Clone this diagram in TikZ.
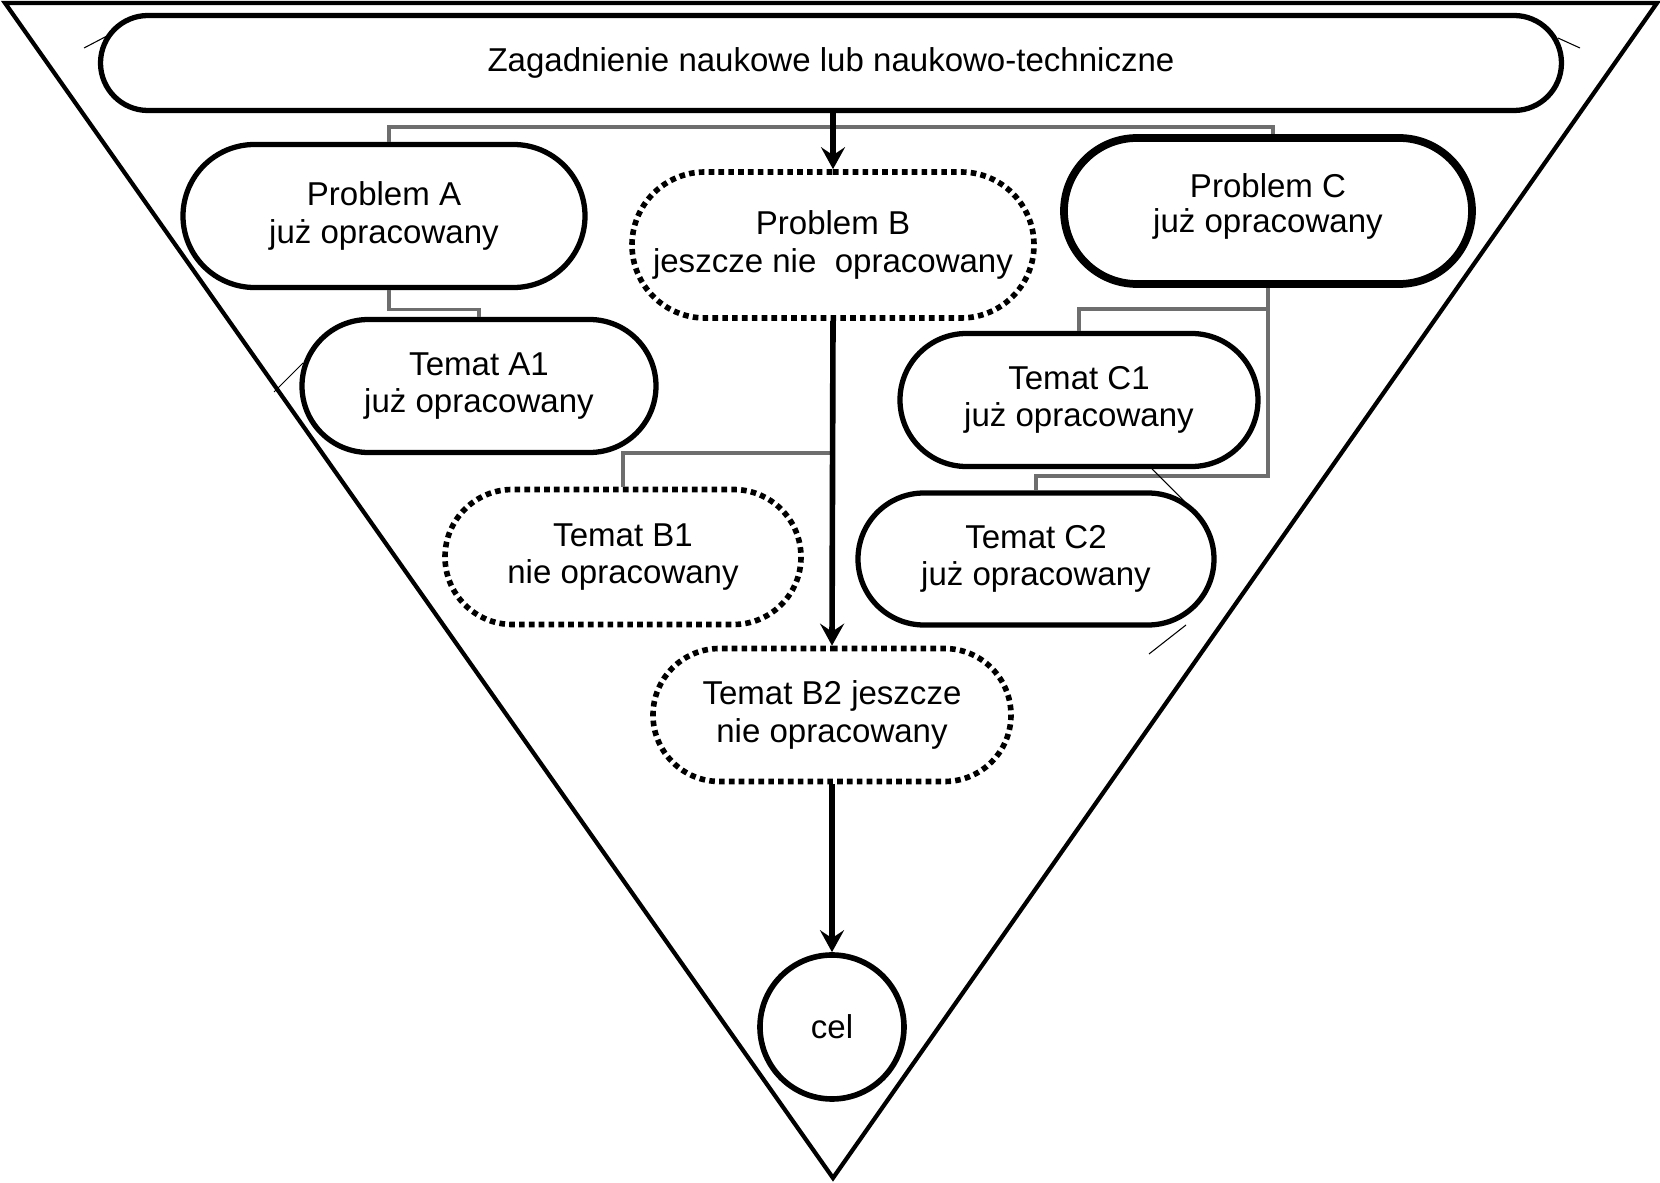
\documentclass[tikz,border=0pt]{standalone}
\usepackage{fontspec}
\setmainfont{Liberation Sans}
\usetikzlibrary{shapes.misc,arrows.meta}

\definecolor{linkgray}{RGB}{110,110,110}
\def\lw{1.5pt}

\tikzset{
 done/.style={rounded rectangle, draw, line width=\lw, align=center, inner sep=0pt},
 todo/.style={rounded rectangle, draw, line width=1.6pt, dash pattern=on 1.6pt off 1.2pt, align=center, inner sep=0pt},
 link/.style={draw=linkgray, line width=0.9pt},
 flow/.style={line width=1.6pt, -{Stealth[length=2.2mm,width=2.4mm,inset=0.8mm]}},
}

\begin{document}
\begin{tikzpicture}[x=0.1mm,y=-0.1mm,font=\fontsize{9.4}{10.6}\selectfont]
 \useasboundingbox (0,0) rectangle (1660,1183);
 % Triangle
 \draw[line width=1.2pt] (5,3) -- (1657,3) -- (833,1178) -- cycle;
 % Field
 \node[done, minimum width=146.1mm, minimum height=9.5mm] (field) at (831,63)
  {Zagadnienie naukowe lub naukowo-techniczne};
 % Problems
 \node[done, minimum width=40.2mm, minimum height=14.3mm] (pa) at (384,216)
  {Problem A\\już opracowany};
 \node[todo, minimum width=40.2mm, minimum height=14.6mm] (pb) at (833,245)
  {Problem B\\jeszcze nie\ \ opracowany};
 \node[done, line width=2.2pt, minimum width=40.8mm, minimum height=14.6mm] (pc) at (1268,211)
  {\raisebox{1.6mm}{\shortstack{Problem C\\już opracowany}}};
 % Topics
 \node[done, minimum width=35.4mm, minimum height=13.3mm] (ta1) at (479,386)
  {Temat A1\\już opracowany};
 \node[todo, minimum width=35.6mm, minimum height=13.5mm] (tb1) at (623,557)
  {Temat B1\\nie opracowany};
 \node[todo, minimum width=35.8mm, minimum height=13.3mm] (tb2) at (832,715)
  {Temat B2 jeszcze\\nie opracowany};
 \node[done, minimum width=35.8mm, minimum height=13.3mm] (tc1) at (1079,400)
  {Temat C1\\już opracowany};
 \node[done, minimum width=35.6mm, minimum height=13.2mm] (tc2) at (1036,559)
  {Temat C2\\już opracowany};
 % Goal
 \node[circle, draw, line width=1.6pt, minimum size=14.4mm, inner sep=0pt] (goal) at (832,1027) {cel};

 % Links
 \coordinate (lv1) at (0,127);
 \coordinate (lv2) at (0,309);
 \coordinate (lv3) at (0,453);
 \coordinate (lv4) at (0,476);
 \coordinate (pan) at ([xshift=0.5mm]pa.north);
 \coordinate (pas) at ([xshift=0.5mm]pa.south);
 \coordinate (pcn) at ([xshift=0.5mm]pc.north);
 \draw[link] (pan) |- (lv1 -| pcn) -- (pcn);
 \draw[link] (pas) -- ++(0,19) -| (ta1.north);
 \draw[link] (pc.south) -- (lv4 -| pc.south) -| (tc2.north);
 \draw[link] (lv2 -| pc.south) -| (tc1.north);
 \draw[link] (lv3 -| pb.south) -| (tb1.north);
 % Flow
 \draw[flow] (field.south -| pb.north) -- (pb.north);
 \draw[flow] (pb.south) -- (tb2.north);
 \draw[flow] (tb2.south) -- (goal.north);
 % Stray strokes
 \draw[line width=0.3pt] (84,48) -- (107,36);
 \draw[line width=0.3pt] (1558,38) -- (1580,48);
 \draw[line width=0.3pt] (274,392) -- (303,363);
 \draw[line width=0.3pt] (1152,469) -- (1185,502);
 \draw[line width=0.3pt] (1149,654) -- (1186,625);
\end{tikzpicture}
\end{document}
